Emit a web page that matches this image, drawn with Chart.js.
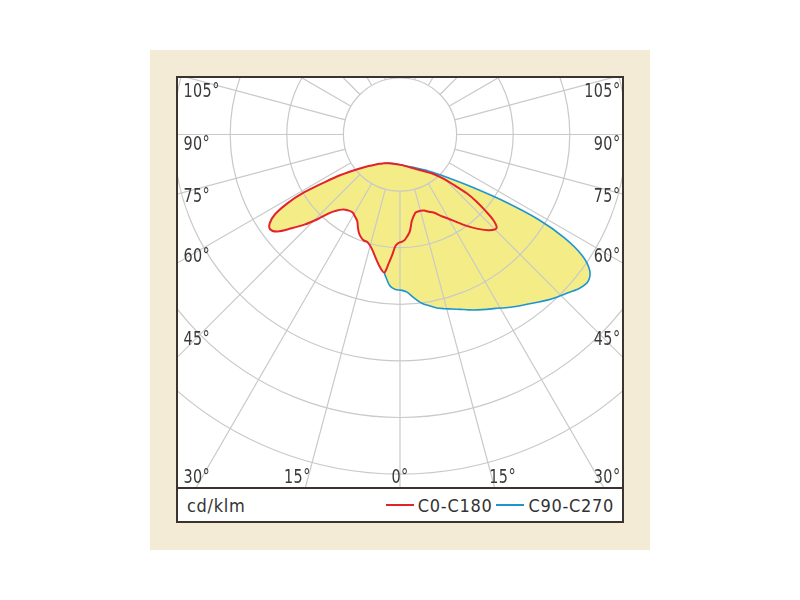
<!DOCTYPE html>
<html>
<head>
<meta charset="utf-8">
<script src="https://cdn.jsdelivr.net/npm/chart.js@4.4.0/dist/chart.umd.min.js"></script>
<style>
body { margin:0; width:800px; height:600px; background:#fff; position:relative; overflow:hidden;
       font-family:"Liberation Sans Narrow","DejaVu Sans Condensed",sans-serif; }
#panel { position:absolute; left:150px; top:50px; width:500px; height:500px; background:#f4ebd7; }
#box { position:absolute; left:176px; top:76px; width:448px; height:447px; box-sizing:border-box;
       border:2px solid #3b3330; background:#fff; }
#chart { position:absolute; left:178px; top:78px; }
#divider { position:absolute; left:176px; top:487px; width:448px; height:2px; background:#3b3330; }
#foot { position:absolute; left:178px; top:489px; width:444px; height:32px; box-sizing:border-box;
        padding:0 8px 0 9px; display:flex; align-items:center; justify-content:space-between;
        font-size:18px; letter-spacing:0.7px; color:#333; }
#legend { display:flex; align-items:center; }
#legend .sw { display:inline-block; width:28px; height:1.5px; margin:0 4px 0 4px; }
</style>
</head>
<body>
<div id="panel"></div>
<div id="box"></div>
<canvas id="chart" width="444" height="409"></canvas>
<div id="divider"></div>
<div id="foot"><span id="unit">cd/klm</span><span id="legend"></span></div>
<script>
// gamma angles (deg), negative = C180 / C270 side
var gammas = [-90, -87.5, -85, -82.5, -80, -77.5, -75, -72.5, -70, -67.5, -65, -62.5,
  -60, -57.5, -55, -52.5, -50, -47.5, -45, -42.5, -40, -37.5, -35, -32.5,
  -30, -27.5, -25, -22.5, -20, -17.5, -15, -12.5, -10, -7.5, -5, -2.5,
  0, 2.5, 5, 7.5, 10, 12.5, 15, 17.5, 20, 22.5, 25, 27.5,
  30, 32.5, 35, 37.5, 40, 42.5, 45, 47.5, 50, 52.5, 55, 57.5,
  60, 62.5, 65, 67.5, 70, 72.5, 75, 77.5, 80, 82.5, 85, 87.5, 90];

// cd/klm
var c0c180 = [0, 3, 8, 15, 28, 50, 80, 110, 152, 186, 213, 228,
  233, 224, 200, 178, 153, 129, 118, 111, 107, 105, 103.5, 103.5,
  106, 109, 113, 122, 131, 137, 141, 142, 147, 156, 169, 183,
  193, 177, 162, 148, 143, 142, 140, 135, 130, 122, 114, 109,
  105.5, 103, 104, 105.5, 109, 116, 123, 139, 156, 180, 202, 220,
  229, 217, 196, 176, 155, 131, 111, 91, 54, 38, 27, 17, 8];

var c90c270 = [0, 2, 5, 12, 20, 28, 35, 38, 42, 45, 48, 52,
  55, 57, 60, 62, 65, 67, 70, 73, 77, 80, 84, 87,
  90, 93, 96, 100, 105, 111, 118, 126, 135, 147, 160, 177,
  194, 216, 224, 226, 231, 244, 256, 264, 272, 278, 284, 291,
  299, 307, 315, 323, 333, 343, 353, 364, 376, 387, 398, 410,
  416, 409, 386, 345, 289, 220, 158, 113, 80, 46, 28, 18, 10];

var seriesNames = ['C0-C180', 'C90-C270'];
var ringValues = [100, 200, 300, 400, 500, 600];
var spokeAngles = [0, 15, 30, 45, 60, 75, 90, 105, 120, 135, 150, 165, 180,
  195, 210, 225, 240, 255, 270, 285, 300, 315, 330, 345];
var sideLabels = [105, 90, 75, 60, 45];
var bottomLabels = [-30, -15, 0, 15, 30];

// layout: grid centre inside canvas and pixels per cd/klm
var W = 444, H = 409, CX = 222, CY = 56.5, PX = 0.566;
// luminaire origin of the curves, relative to the grid centre (cd/klm units)
var ORIGIN_X = -27.7, ORIGIN_Y = -50.9;

function toXY(g, v) {
  var a = g * Math.PI / 180;
  return { x: ORIGIN_X + v * Math.sin(a), y: ORIGIN_Y - v * Math.cos(a) };
}
function buildPath(values) {
  var pts = gammas.map(function(g, i){ return toXY(g, values[i]); });
  pts.push(toXY(gammas[0], values[0]));
  return pts;
}
var pathGammas = gammas.concat([gammas[0]]);

var FONT = '"Liberation Sans Narrow", "DejaVu Sans Condensed", sans-serif';
var SX = 0.8; // narrow the angle labels

function label(ctx, txt, x, y, align) {
  var w = ctx.measureText(txt).width * SX;
  var left = align === 'right' ? x - w : (align === 'center' ? x - w / 2 : x);
  ctx.save();
  ctx.translate(left, y);
  ctx.scale(SX, 1);
  ctx.textAlign = 'left';
  ctx.fillText(txt, 0, 0);
  ctx.restore();
}

var polarGrid = {
  id: 'polarGrid',
  beforeDatasetsDraw: function(chart) {
    var ctx = chart.ctx, area = chart.chartArea, x = chart.scales.x, y = chart.scales.y;
    ctx.save();
    ctx.beginPath();
    ctx.rect(area.left, area.top, area.right - area.left, area.bottom - area.top);
    ctx.clip();
    // yellow areas, following the library's own curve
    chart.data.datasets.forEach(function(ds, i){
      var line = chart.getDatasetMeta(i).dataset;
      line.updateControlPoints(area, 'x');
      var pts = line.points;
      ctx.beginPath();
      pts.forEach(function(p, j){
        if (!j) { ctx.moveTo(p.x, p.y); return; }
        var q = pts[j - 1];
        if (q.cp2x !== undefined) ctx.bezierCurveTo(q.cp2x, q.cp2y, p.cp1x, p.cp1y, p.x, p.y);
        else ctx.lineTo(p.x, p.y);
      });
      ctx.closePath();
      ctx.fillStyle = ds.backgroundColor;
      ctx.fill();
    });
    // rings and spokes
    var cx = x.getPixelForValue(0), cy = y.getPixelForValue(0);
    var unit = x.getPixelForValue(1) - cx;
    ctx.strokeStyle = '#c9c9c9';
    ctx.lineWidth = 1.2;
    ringValues.forEach(function(r){
      ctx.beginPath();
      ctx.arc(cx, cy, r * unit, 0, Math.PI * 2);
      ctx.stroke();
    });
    var r0 = ringValues[0], r1 = 1200;
    spokeAngles.forEach(function(a){
      var s = Math.sin(a * Math.PI / 180), c = Math.cos(a * Math.PI / 180);
      ctx.beginPath();
      ctx.moveTo(x.getPixelForValue(r0 * s), y.getPixelForValue(-r0 * c));
      ctx.lineTo(x.getPixelForValue(r1 * s), y.getPixelForValue(-r1 * c));
      ctx.stroke();
    });
    ctx.restore();
  },
  afterDatasetsDraw: function(chart) {
    var ctx = chart.ctx, area = chart.chartArea, x = chart.scales.x, y = chart.scales.y;
    var cx = x.getPixelForValue(0);
    var unit = x.getPixelForValue(1) - cx;
    ctx.save();
    ctx.font = '20px ' + FONT;
    ctx.fillStyle = '#3a3a3a';
    ctx.letterSpacing = '0.5px';
    ctx.textBaseline = 'alphabetic';
    var side = 195 / unit;
    sideLabels.forEach(function(a){
      var rad = a * Math.PI / 180;
      var py = y.getPixelForValue(-side * Math.cos(rad) / Math.sin(rad)) + 15;
      label(ctx, a + '°', area.left + 5.5, py, 'left');
      label(ctx, a + '°', area.right - 1.5, py, 'right');
    });
    var down = 383 / unit;
    bottomLabels.forEach(function(a){
      var txt = Math.abs(a) + '°';
      var w = ctx.measureText(txt).width * SX;
      var px = x.getPixelForValue(down * Math.tan(a * Math.PI / 180));
      px = Math.max(area.left + 5.5 + w / 2, Math.min(area.right - 1.5 - w / 2, px));
      label(ctx, txt, px, area.bottom - 4, 'center');
    });
    ctx.restore();
  }
};

var chart = new Chart(document.getElementById('chart'), {
  type: 'scatter',
  data: {
    datasets: [{
      label: seriesNames[0],
      data: buildPath(c0c180),
      showLine: true,
      borderColor: '#e3222b',
      backgroundColor: '#f4ed87',
      borderWidth: 2,
      pointRadius: 0,
      tension: 0.3
    }, {
      label: seriesNames[1],
      data: buildPath(c90c270),
      showLine: true,
      borderColor: '#1e95d0',
      backgroundColor: '#f4ed87',
      borderWidth: 1.6,
      pointRadius: 0,
      tension: 0.3,
      // the C270 half lies inside the C0-C180 area
      segment: {
        borderColor: function(c){
          return (pathGammas[c.p0DataIndex] < 0) ? 'rgba(0,0,0,0)' : undefined;
        }
      }
    }]
  },
  options: {
    responsive: false,
    animation: false,
    devicePixelRatio: 1,
    events: [],
    layout: { padding: 0 },
    scales: {
      x: { type: 'linear', display: false, min: -CX / PX, max: (W - CX) / PX },
      y: { type: 'linear', display: false, min: -(H - CY) / PX, max: CY / PX }
    },
    plugins: {
      legend: { display: false },
      tooltip: { enabled: false }
    }
  },
  plugins: [polarGrid]
});

// legend row from the datasets
var legend = document.getElementById('legend');
chart.data.datasets.forEach(function(ds){
  var sw = document.createElement('span');
  sw.className = 'sw';
  sw.style.background = ds.borderColor;
  var t = document.createElement('span');
  t.textContent = ds.label;
  legend.appendChild(sw);
  legend.appendChild(t);
});
</script>
</body>
</html>
